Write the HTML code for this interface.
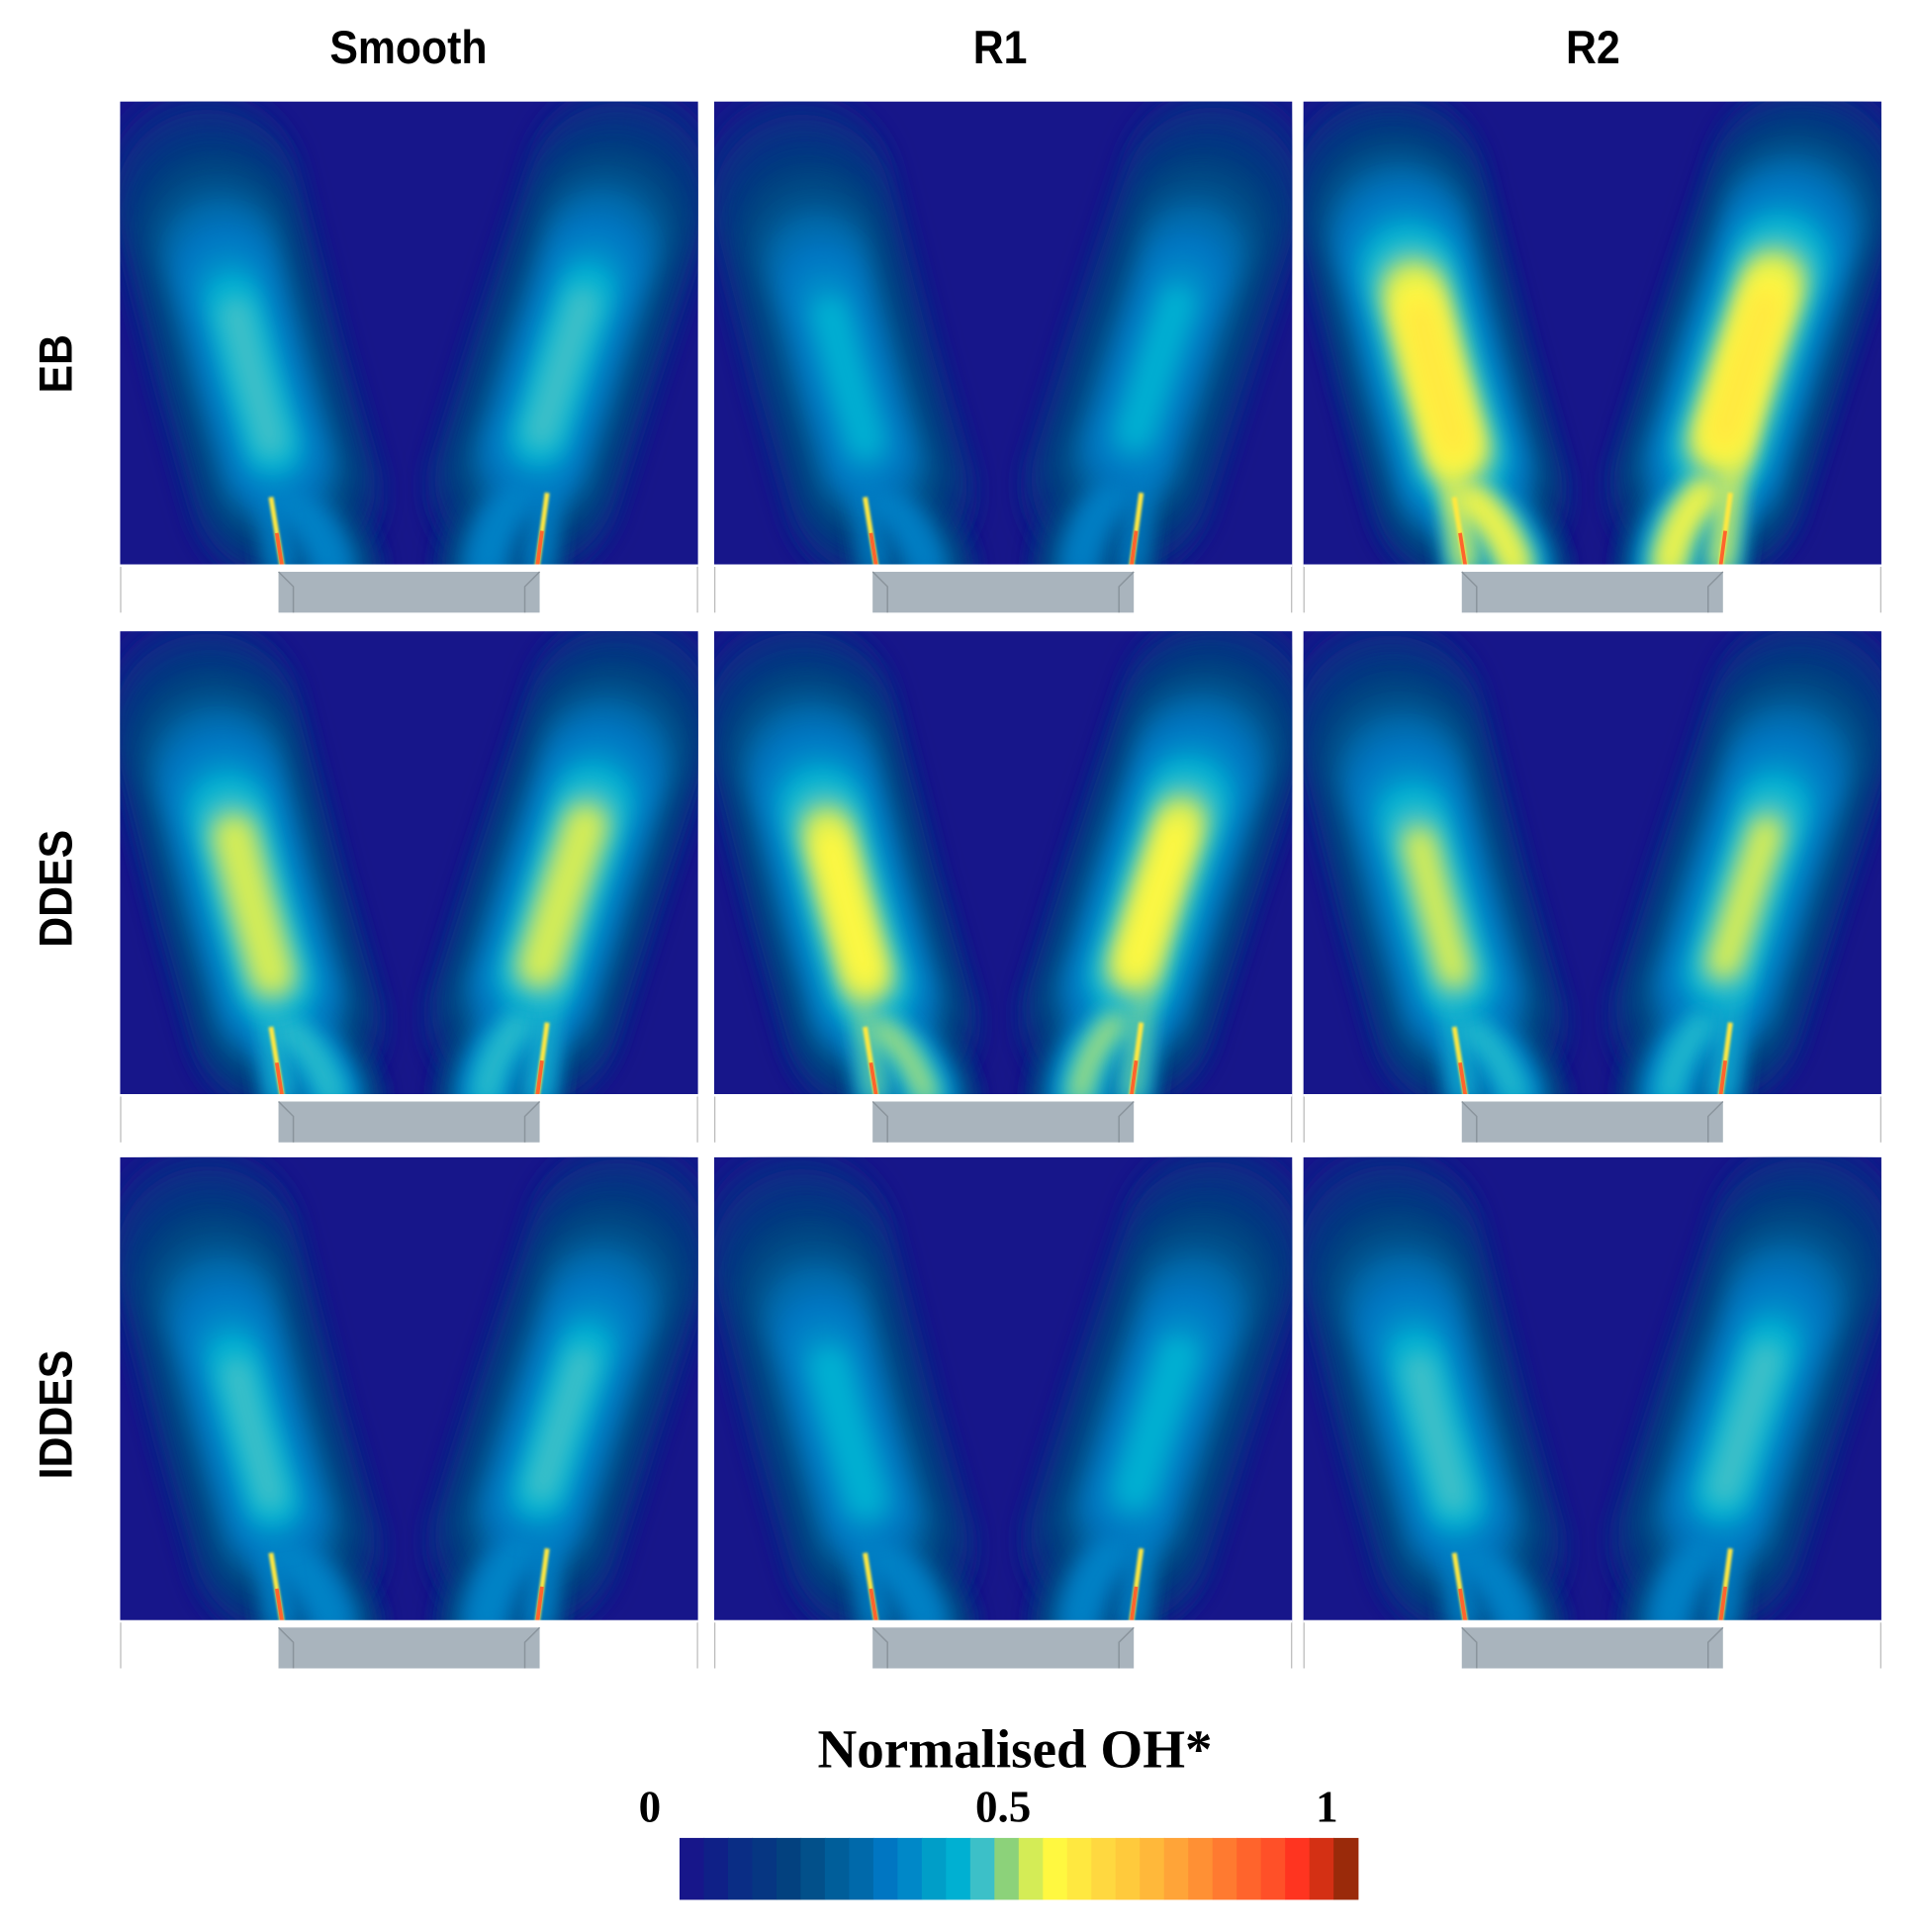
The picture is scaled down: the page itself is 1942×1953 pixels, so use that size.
<!DOCTYPE html>
<html><head><meta charset="utf-8">
<style>
html,body{margin:0;padding:0;background:#fff;}
svg{display:block;}
</style></head>
<body>
<svg id="fig" width="1942" height="1953" viewBox="0 0 1552 1561" preserveAspectRatio="none" xmlns="http://www.w3.org/2000/svg">
<defs>
<filter id="b6" filterUnits="userSpaceOnUse" x="-300" y="-300" width="1100" height="1000"><feGaussianBlur stdDeviation="9"/></filter>
<filter id="b1" filterUnits="userSpaceOnUse" x="-300" y="-300" width="1100" height="1000"><feGaussianBlur stdDeviation="1"/></filter>
</defs>
<g font-family="'Liberation Sans', Arial, sans-serif" font-weight="bold" font-size="38" fill="#000">
<text x="0" y="51" text-anchor="middle" transform="translate(330 0) scale(0.9 1)">Smooth</text>
<text x="0" y="51" text-anchor="middle" transform="translate(808 0) scale(0.9 1)">R1</text>
<text x="0" y="51" text-anchor="middle" transform="translate(1287 0) scale(0.9 1)">R2</text>
<text transform="translate(58 294) rotate(-90) scale(0.9 1)" text-anchor="middle">EB</text>
<text transform="translate(58 718) rotate(-90) scale(0.9 1)" text-anchor="middle">DDES</text>
<text transform="translate(58 1143) rotate(-90) scale(0.9 1)" text-anchor="middle">IDDES</text>
</g>
<g id="panels"></g>
<g id="cbar"></g>
<g font-family="'Liberation Serif', 'Times New Roman', serif" font-weight="bold" fill="#000">
<text x="820" y="1428" font-size="44" text-anchor="middle">Normalised OH*</text>
</g>
<g id="cticks" font-family="'Liberation Serif', 'Times New Roman', serif" font-weight="bold" font-size="36" fill="#000"></g>
</svg>
<script>
const cmapColors=["#17168a","#0f2087","#0a2d85","#063682","#03417f","#02508a","#005e9a","#0069aa","#0076c2","#0088c8","#009ec8","#00b0d2","#3cc0c8","#8cd27a","#d4ec56","#fff840","#ffe840","#ffd840","#ffca3c","#ffb83a","#ffa438","#ff9034","#ff7a30","#ff642c","#ff5028","#ff3420","#d43014","#9a2a0a"];
const rowNames=["EB","DDES","IDDES"];
const colNames=["Smooth","R1","R2"];
// peak normalised OH* in lobe, per row (EB, DDES, IDDES) x column
const lobePeak=[[0.47,0.42,0.62],[0.55,0.57,0.52],[0.46,0.43,0.47]];
// peak along the inner leg
const legPeak=[[0.38,0.36,0.6],[0.48,0.52,0.46],[0.4,0.38,0.38]];
const tickValues=[0,0.5,1];
const tickLabels=["0","0.5","1"];

const NS="http://www.w3.org/2000/svg";
function cmap(v){v=Math.max(0,Math.min(1,v));return cmapColors[Math.min(cmapColors.length-1,Math.floor(v*cmapColors.length))];}
function el(t,a,p){const e=document.createElementNS(NS,t);for(const k in a)e.setAttribute(k,a[k]);p.appendChild(e);return e;}
function lerp(a,b,t){return [a[0]+(b[0]-a[0])*t,a[1]+(b[1]-a[1])*t];}

const colX=[97,577,1053], rowY=[82,510,935], PW=467, CH=376, PH=413;
const panels=document.getElementById('panels');
for(let r=0;r<3;r++)for(let c=0;c<3;c++){
  const g=el('g',{transform:`translate(${colX[c]} ${rowY[r]})`},panels);
  
  
  const cid='clip'+r+c;
  const cp=el('clipPath',{id:cid},g);el('rect',{x:0,y:0,width:PW,height:CH},cp);
  const f=el('g',{'clip-path':`url(#${cid})`},g);
  el('rect',{x:0,y:0,width:PW,height:CH,fill:cmapColors[0]},f);
  const lp=lobePeak[r][c], gp=legPeak[r][c];
  const plumes=[
    {noz:[131,CH],inner:[172,CH],lobe:[[135,320],[105,215],[65,60]],mid:[160,340]},
    {noz:[337,CH],inner:[295,CH],lobe:[[325,315],[360,205],[410,55]],mid:[300,340]}
  ];
  const levels=[0.04,0.08,0.12,0.16,0.2,0.25,0.3,0.35,0.4,0.45,0.5,0.55,0.6];
  plumes.forEach((p,pi)=>{
    const pg=el('g',{},f);
    
    
    const L=p.lobe;
    const innerPath=`M${p.inner[0]} ${p.inner[1]} Q${p.mid[0]} ${p.mid[1]} ${L[0][0]} ${L[0][1]}`;
    const nozPath=`M${p.noz[0]} ${p.noz[1]} L${L[1][0]} ${L[1][1]}`;
    levels.forEach(lv=>{
      const t=lv/lp;
      const ti=lv/gp;
      if(ti<1){
        const w=80*(1-ti)+8;
        el('path',{d:innerPath,stroke:cmap(lv),'stroke-width':w,'stroke-linecap':'round',fill:'none',filter:'url(#b6)'},pg);
        el('path',{d:nozPath,stroke:cmap(lv),'stroke-width':w*0.5,'stroke-linecap':'round',fill:'none',filter:'url(#b6)'},pg);
      }
      if(t<1){
        const w=150*(1-t)+22;
        const top=lerp(L[2],L[1],Math.min(1,t*0.75));
        const bot=lerp(L[0],L[1],Math.min(1,t*0.45));
        el('path',{d:`M${bot[0]} ${bot[1]} L${L[1][0]} ${L[1][1]} L${top[0]} ${top[1]}`,stroke:cmap(lv),'stroke-width':w,'stroke-linecap':'round','stroke-linejoin':'round',fill:'none',filter:'url(#b6)'},pg);
      }
    });
    const dx=(L[1][0]-p.noz[0]), dy=(L[1][1]-p.noz[1]);
    const j=el('line',{x1:p.noz[0],y1:p.noz[1],x2:p.noz[0]+dx*0.35,y2:p.noz[1]+dy*0.35,stroke:cmap(0.58),'stroke-width':4,filter:'url(#b1)'},pg);
    
    
    el('line',{x1:p.noz[0],y1:p.noz[1],x2:p.noz[0]+dx*0.17,y2:p.noz[1]+dy*0.17,stroke:cmap(0.85),'stroke-width':3},pg);
  });
  el('rect',{x:0,y:CH-2,width:PW,height:PH-CH+4,fill:'#fff'},g);
  el('line',{x1:0.5,y1:CH,x2:0.5,y2:PH,stroke:'#bbb','stroke-width':1},g);
  el('line',{x1:PW-0.5,y1:CH,x2:PW-0.5,y2:PH,stroke:'#bbb','stroke-width':1},g);
  const blk=el('g',{},g);
  
  
  el('rect',{x:128,y:CH+4,width:211,height:PH-CH-4,fill:'#a9b4bd'},blk);
  el('polyline',{points:`128,${CH+4} 140,${CH+16} 140,${PH}`,fill:'none',stroke:'#8a949c','stroke-width':1.2},blk);
  el('polyline',{points:`339,${CH+4} 327,${CH+16} 327,${PH}`,fill:'none',stroke:'#8a949c','stroke-width':1.2},blk);
}
const cb=document.getElementById('cbar');
const cbX=549,cbW=548,cbY=1485,cbH=50;
cmapColors.forEach((col,i)=>{
  const s=el('rect',{x:cbX+i*cbW/cmapColors.length,y:cbY,width:cbW/cmapColors.length+0.6,height:cbH,fill:col},cb);
  
  
});
const ct=document.getElementById('cticks');
const tickX=v=>525+v*(1072-525)+(v===0.5?12:0);
tickValues.forEach((v,i)=>{
  const t=el('text',{x:tickX(v),y:1472,'text-anchor':'middle'},ct);
  t.textContent=tickLabels[i];
  
  
});
</script>
</body></html>
